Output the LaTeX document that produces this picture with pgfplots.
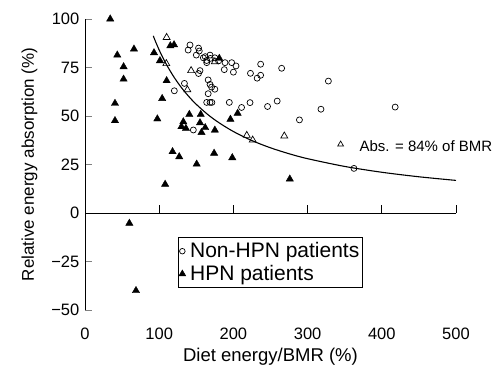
\documentclass[border=0pt]{standalone}
\usepackage{fontspec}
\setmainfont{Liberation Sans}
\usepackage{pgfplots}
\pgfplotsset{compat=1.18}
\begin{document}
\fontsize{16.5bp}{19bp}\selectfont
\begin{tikzpicture}
\begin{axis}[
  name=ax,
  scale only axis,
  width=371bp, height=291bp,
  xmin=0, xmax=500, ymin=-50, ymax=100,
  clip=false,
  axis y line=left,
  axis x line=bottom,
  axis line style={-, line width=0.8bp},
  x axis line style={draw=none},
  xtick={0,100,200,300,400,500},
  xticklabels={0,100,200,300,400,500},
  xtick style={draw=none},
  ytick={-50,-25,0,25,50,75,100},
  yticklabels={−50,−25,0,25,50,75,100},
  ytick style={line width=0.8bp},
  tick align=inside,
  major tick length=7bp,
  xticklabel style={yshift=-12bp},
  xlabel={Diet energy/BMR (\%)},
  ylabel={Relative energy absorption (\%)},
  xlabel style={at={(axis description cs:0.5,0)}, anchor=base, yshift=-51bp, inner sep=0pt, font=\fontsize{18.5bp}{22bp}\selectfont},
  ylabel style={at={(axis description cs:-0.1375,0.5)}, anchor=base, inner sep=0pt, font=\fontsize{17bp}{20bp}\selectfont},
  legend style={at={(axis cs:125,-12.4)}, anchor=north west, draw=black, line width=0.6bp,
     font=\fontsize{21bp}{24bp}\selectfont, inner xsep=1bp, inner ysep=2.5bp, row sep=0bp, column sep=3bp,
     cells={anchor=west}, nodes={inner xsep=1.5bp, inner ysep=2.5bp}},
]
% curve
\addplot[black, line width=1.1bp, smooth, forget plot] coordinates {
(92,91.30) (95,88.42) (100,84) (105,80) (110,76.36) (120,70) (130,64.62) (140,60)
(150,56) (165,50.91) (180,46.67) (200,42) (225,37.33) (250,33.6) (275,30.55)
(300,28) (350,24) (400,21) (450,18.67) (500,16.8)};
% Non-HPN
\addplot[only marks, mark=o, mark size=3bp, mark options={line width=0.7bp, fill=white},
  legend image post style={mark size=2.8bp}] coordinates {
(139,84) (141.5,86.6) (153,85) (154,83.5) (150,81.4) (159.5,80) (164,78.6) (169,79.7)
(175,80) (180,78.4) (162,80.6) (168.5,81.4) (164,77.5) (188.7,77.5) (197.7,77.5)
(203.5,75.8) (187.7,73.9) (200,72.6) (223,72) (236.7,76.7) (236.7,71) (232,69.5)
(265,74.6) (155,73.4) (153,71.9) (166,68.6) (168.5,66.3) (175,63.8) (166,61.5)
(170.6,64.9) (164,57) (168.5,57) (171,57) (194.5,57) (211,54.4) (222.4,56.9)
(246,54.9) (259,57.7) (120.4,63) (134,66.8) (146,42.8) (289,48) (318,53.5)
(328,68) (418,54.6) (362.5,23)};
\addlegendentry{Non-HPN patients}
% HPN
\addplot[only marks, mark=triangle*, mark size=4.2bp, black,
  legend image post style={mark size=3.8bp}] coordinates {
(34,100) (43.5,81.4) (52,75.4) (52,69) (66,84.5) (40.4,56.5) (40.4,47.6) (93,82.6)
(101,78.5) (115,86.2) (120,86.7) (110,68.2) (104,59) (97.5,48.5) (108,14.8)
(118,31.6) (127,29) (132.5,47) (130,44.5) (136,43.6) (140.6,50.8) (156,50.8)
(155,46.5) (162,44) (157,41.5) (175,42.7) (150.5,25.2) (174,30.8) (196,48.3)
(205.7,51.4) (198.5,28.5) (181,79.7) (59.8,-5.3) (68.7,-40) (276,17.5)};
\addlegendentry{HPN patients}
% open triangles
\addplot[only marks, mark=triangle, mark size=4bp, mark options={line width=0.7bp, fill=white}, forget plot] coordinates {
(110,90.5) (109.6,77) (143,73.4) (138,63.5) (175,78) (218,40) (226,37.6) (268.6,39.7)};
\addplot[only marks, mark=triangle, mark size=3.3bp, mark options={line width=0.7bp}, forget plot] coordinates {(344.5,35.4)};
\node[anchor=base west, inner sep=0pt, font=\fontsize{15bp}{18bp}\selectfont] at (axis cs:369.7,31.6) {Abs. = 84\% of BMR};
% zero line and its ticks
\draw[line width=0.8bp] (axis cs:0,0) -- (axis cs:500,0);
\draw[line width=0.8bp] (axis cs:100,0) -- ([yshift=8bp]axis cs:100,0);
\draw[line width=0.8bp] (axis cs:200,0) -- ([yshift=8bp]axis cs:200,0);
\draw[line width=0.8bp] (axis cs:300,0) -- ([yshift=8bp]axis cs:300,0);
\draw[line width=0.8bp] (axis cs:400,0) -- ([yshift=8bp]axis cs:400,0);
\draw[line width=0.8bp] (axis cs:500,0) -- ([yshift=8bp]axis cs:500,0);
\end{axis}
\pgfresetboundingbox
\path ([xshift=-85bp,yshift=-56bp]ax.south west) rectangle ([xshift=38bp,yshift=19bp]ax.north east);
\end{tikzpicture}
\end{document}
